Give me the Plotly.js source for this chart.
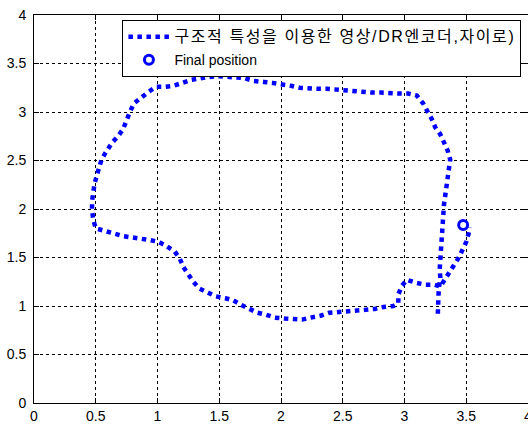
<!DOCTYPE html>
<html>
<head>
<meta charset="utf-8">
<script src="https://cdn.plot.ly/plotly-3.0.1.min.js"></script>
<style>html,body{margin:0;padding:0;background:#fff;}#chart{width:528px;height:424px;}</style>
</head>
<body>
<div id="chart"></div>
<script>
// Trajectory (구조적 특성을 이용한 영상/DR엔코더,자이로)
const pathX = [3.27,3.27,3.275,3.28,3.29,3.285,3.29,3.29,3.295,3.30,3.31,3.31,3.32,3.33,3.34,3.35,3.36,3.37,3.35,3.32,3.29,3.25,3.22,3.18,3.15,3.10,3.03,2.96,2.88,2.81,2.74,2.66,2.59,2.52,2.44,2.37,2.29,2.22,2.15,2.08,2.00,1.93,1.86,1.78,1.70,1.63,1.56,1.49,1.41,1.34,1.27,1.20,1.13,1.06,0.99,0.93,0.87,0.81,0.78,0.75,0.72,0.68,0.63,0.59,0.55,0.53,0.51,0.49,0.48,0.47,0.47,0.48,0.50,0.57,0.64,0.72,0.79,0.87,0.94,1.01,1.07,1.14,1.18,1.21,1.25,1.29,1.34,1.41,1.47,1.55,1.61,1.68,1.74,1.81,1.88,1.95,2.03,2.10,2.17,2.24,2.32,2.39,2.46,2.53,2.61,2.68,2.76,2.83,2.91,2.95,2.95,2.98,3.02,3.09,3.17,3.24,3.29,3.33,3.40,3.44,3.47,3.50,3.52,3.53];
const pathY = [0.92,1.01,1.11,1.20,1.29,1.38,1.48,1.57,1.67,1.76,1.86,1.95,2.05,2.14,2.23,2.32,2.41,2.51,2.60,2.69,2.77,2.84,2.93,3.02,3.09,3.17,3.19,3.19,3.20,3.20,3.20,3.21,3.22,3.22,3.23,3.24,3.24,3.24,3.25,3.27,3.29,3.30,3.31,3.32,3.35,3.36,3.36,3.37,3.36,3.35,3.33,3.30,3.27,3.26,3.26,3.21,3.15,3.09,3.01,2.91,2.82,2.75,2.68,2.60,2.52,2.44,2.35,2.26,2.17,2.08,1.99,1.89,1.80,1.77,1.75,1.72,1.71,1.70,1.68,1.66,1.62,1.56,1.49,1.40,1.32,1.25,1.18,1.13,1.10,1.08,1.06,1.01,0.97,0.93,0.91,0.88,0.87,0.86,0.86,0.88,0.90,0.93,0.94,0.95,0.96,0.96,0.97,0.99,1.00,1.03,1.12,1.21,1.27,1.24,1.22,1.22,1.20,1.28,1.40,1.50,1.58,1.66,1.75,1.81];
// Final position
const finalX = [3.475];
const finalY = [1.835];
const tickVals = [0,0.5,1,1.5,2,2.5,3,3.5,4];
const tickText = ['0','0.5','1','1.5','2','2.5','3','3.5','4'];
const seriesNames = ['구조적 특성을 이용한 영상/DR엔코더,자이로)', 'Final position'];

const blue = '#0000ff';
const traces = [
  {x: pathX, y: pathY, type: 'scatter', mode: 'lines',
   name: '<span style="font-size:16px;letter-spacing:1.6px">' + seriesNames[0] + '</span>',
   line: {color: blue, width: 4.5, dash: '4.5px,4.5px'}, legendgroup: 'a'},
  {x: finalX, y: finalY, type: 'scatter', mode: 'markers', name: seriesNames[1],
   marker: {symbol: 'circle-open', size: 9, color: blue, line: {color: blue, width: 3}}, legendgroup: 'b'}
];
const axisCommon = {
  range: [0, 4], tickvals: tickVals, ticktext: tickText,
  showgrid: true, gridcolor: '#000', gridwidth: 1, griddash: 'dot',
  showline: true, linecolor: '#000', linewidth: 1, mirror: 'ticks',
  ticks: 'inside', ticklen: 5, tickcolor: '#000',
  zeroline: false, fixedrange: true,
  tickfont: {family: 'Liberation Sans, Arial, sans-serif', size: 14, color: '#000'}
};
const layout = {
  width: 528, height: 424,
  margin: {l: 34, r: 0, t: 15, b: 21},
  paper_bgcolor: '#fff', plot_bgcolor: '#fff',
  xaxis: Object.assign({}, axisCommon, {ticklabelstandoff: 0, ticklabeloverflow: 'allow'}),
  yaxis: Object.assign({}, axisCommon, {ticklabelstandoff: 4}),
  showlegend: true,
  legend: {
    x: 0.179, y: 0.987, xanchor: 'left', yanchor: 'top',
    bgcolor: '#fff', bordercolor: '#000', borderwidth: 1,
    font: {family: 'Liberation Sans, Arial, Noto Sans CJK KR, sans-serif', size: 14, color: '#000'},
    itemwidth: 41, tracegroupgap: 2, traceorder: 'grouped'
  }
};
Plotly.newPlot('chart', traces, layout, {displayModeBar: false, staticPlot: true});
</script>
</body>
</html>
